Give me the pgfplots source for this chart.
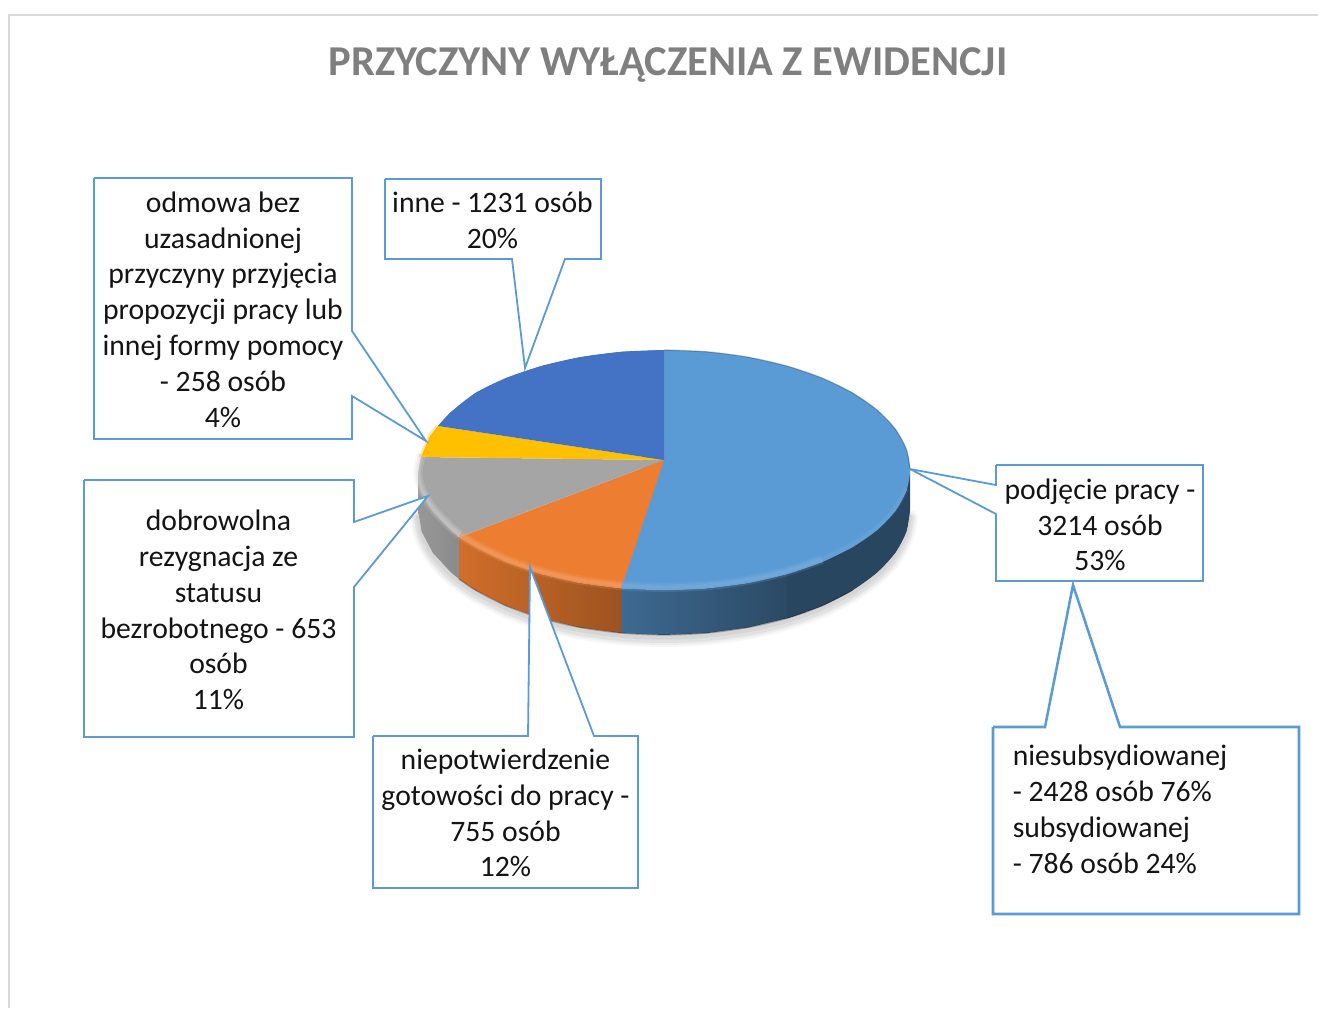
\documentclass[border=0pt]{standalone}
\usepackage{fontspec}
\setmainfont{Carlito}
\usepackage{pgfplots}
\usepackage{pgfplotstable}
\pgfplotsset{compat=1.18}
\definecolor{cblue}{HTML}{5B9BD5}
\definecolor{cdblue}{HTML}{4472C4}
\definecolor{corange}{HTML}{ED7D31}
\definecolor{cgrey}{HTML}{A5A5A5}
\definecolor{cyellow}{HTML}{FFC000}
\definecolor{frame}{HTML}{D9D9D9}
\definecolor{titlec}{HTML}{7F7F7F}
% rim of the upper face
\pgfplotstableread{
x y
664 350
706.7 351.8
748.1 357.2
787 366.1
822.1 378.1
852.4 392.9
877 410
895.2 429
906.3 449.2
910 470
906.3 490.8
895.2 511
877 530
852.4 547.1
822.1 561.9
787 573.9
748.1 582.8
706.7 588.2
664 590
621.3 588.2
}\rimBlueAll
\pgfplotstableread{
x y
906.3 490.8
895.2 511
877 530
852.4 547.1
822.1 561.9
}\rimBlueR
\pgfplotstableread{
x y
822.1 561.9
787 573.9
748.1 582.8
706.7 588.2
664 590
621.3 588.2
}\rimBlueL
\pgfplotstableread{
x y
621.3 588.2
579.9 582.8
541 573.9
505.9 561.9
475.6 547.1
460 537
}\rimOrange
\pgfplotstableread{
x y
460 537
451 530
432.8 511
421.7 492
418 476
421 457
}\rimGrey
\pgfplotstableread{
x y
421 457
430 436
438 426
}\rimYellow
\pgfplotstableread{
x y
438 426
451 412
475.6 392.9
505.9 378.1
541 366.1
579.9 357.2
621.3 351.8
664 350
}\rimDark
\pgfplotstableread{
x y
664 350
706.7 351.8
748.1 357.2
787 366.1
822.1 378.1
852.4 392.9
877 410
895.2 429
906.3 449.2
910 470
}\rimTopR
% lower edge of the pie
\pgfplotstableread{
x y
910 514
906.3 531.7
895.2 552.8
877 572.5
852.4 590.3
822.1 605.8
787 618.3
748.1 627.5
706.7 633.1
664 635
621.3 633.1
579.9 627.5
541 618.3
505.9 605.8
475.6 590.3
459 579
451 572.5
432.8 552.8
421.7 531.7
418 514
}\lowerEdge
\pgfplotstableread{
x y
910 510
906.3 531.7
895.2 552.8
877 572.5
852.4 590.3
822.1 605.8
787 618.3
}\lowerBlueR
\tikzset{box/.style={draw=cblue,line width=1.35pt,fill=white,line join=miter},
 lab/.style={font=\fontsize{22.25}{26.85}\selectfont,align=center,text=black!92,inner sep=0pt}}
\begin{document}
\begin{tikzpicture}
\begin{axis}[scale only axis,width=988.5pt,height=756pt,xmin=0,xmax=1318,ymin=0,ymax=1008,
  y dir=reverse,axis lines=none,clip=false,ticks=none]
% frame
\addplot[draw=frame,line width=1.5pt,forget plot] coordinates {(9,1008) (9,14.5) (1318,14.5)};
% shadow
\addplot[smooth,draw=black,opacity=.03,line width=12pt,line cap=round,yshift=-3pt,forget plot] table {\lowerEdge};
\addplot[smooth,draw=black,opacity=.04,line width=9pt,line cap=round,yshift=-3pt,forget plot] table {\lowerEdge};
\addplot[smooth,draw=black,opacity=.05,line width=6pt,line cap=round,yshift=-3pt,forget plot] table {\lowerEdge};
\addplot[smooth,draw=black,opacity=.05,line width=3pt,line cap=round,yshift=-2pt,forget plot] table {\lowerEdge};
% side walls
\addplot[draw=none,left color=cblue!68!black,right color=cblue!45!black,forget plot] coordinates {
 (805,568.4) (787,573.9) (748.1,582.8) (706.7,588.2) (664,590) (621.3,588.2)
 (621.3,633.1) (664,635) (706.7,633.1) (748.1,627.5) (787,618.3) (805,612.4)};
\addplot[draw=none,fill=cblue!45!black,forget plot] coordinates {
 (910,470) (906.3,490.8) (895.2,511) (877,530) (852.4,547.1) (822.1,561.9) (787,573.9)
 (787,618.3) (822.1,605.8) (852.4,590.3) (877,572.5) (895.2,552.8) (906.3,531.7) (910,510)};
\addplot[smooth,draw=none,fill=cblue!45!black,forget plot] table {\lowerBlueR};
\addplot[draw=none,left color=corange!88!black,right color=corange!66!black,forget plot] coordinates {
 (621.3,588.2) (579.9,582.8) (541,573.9) (505.9,561.9) (475.6,547.1) (459,537)
 (459,579) (475.6,590.3) (505.9,605.8) (541,618.3) (579.9,627.5) (621.3,633.1)};
\addplot[draw=none,left color=cgrey!92!black,right color=cgrey!84!black,forget plot] coordinates {
 (459,537) (451,530) (432.8,511) (421.7,492) (418,476)
 (418,510) (421.7,531.7) (432.8,552.8) (451,572.5) (459,579)};
% dark lower edge of the walls
\addplot[smooth,draw=black,opacity=.3,line width=.9pt,forget plot] coordinates {
 (852.4,590.3) (822.1,605.8) (787,618.3) (748.1,627.5) (706.7,633.1) (664,635) (621.3,633.1)
 (579.9,627.5) (541,618.3) (505.9,605.8) (475.6,590.3) (459,579)};
% upper faces: 3214, 755, 653, 258, 1231 persons
\addplot[draw=none,fill=cblue,forget plot] coordinates {
 (664,460) (664,350) (706.7,351.8) (748.1,357.2) (787,366.1) (822.1,378.1) (852.4,392.9) (877,410)
 (895.2,429) (906.3,449.2) (910,470) (906.3,490.8) (895.2,511) (877,530) (852.4,547.1) (822.1,561.9)
 (787,573.9) (748.1,582.8) (706.7,588.2) (664,590) (621.3,588.2)};
\addplot[smooth,draw=none,fill=cblue,forget plot] table {\rimBlueAll};
\addplot[draw=none,fill=corange,forget plot] coordinates {
 (664,460) (621.3,588.2) (579.9,582.8) (541,573.9) (505.9,561.9) (475.6,547.1) (460,537)};
\addplot[smooth,draw=none,fill=corange,forget plot] table {\rimOrange};
\addplot[draw=none,fill=cgrey,forget plot] coordinates {
 (664,460) (460,537) (451,530) (432.8,511) (421.7,492) (418,476) (421,457)};
\addplot[smooth,draw=none,fill=cgrey,forget plot] table {\rimGrey};
\addplot[draw=none,fill=cyellow,forget plot] coordinates {
 (664,460) (421,457) (430,436) (438,426)};
\addplot[draw=none,fill=cdblue,forget plot] coordinates {
 (664,460) (438,426) (451,412) (475.6,392.9) (505.9,378.1) (541,366.1) (579.9,357.2) (621.3,351.8) (664,350)};
\addplot[smooth,draw=none,fill=cdblue,forget plot] table {\rimDark};
% bevel highlights
\addplot[smooth,draw=cblue!75!white,opacity=.18,line width=7pt,yshift=2pt,forget plot] table {\rimBlueL};
\addplot[smooth,draw=cblue!75!white,opacity=.22,line width=4.5pt,yshift=2pt,forget plot] table {\rimBlueL};
\addplot[smooth,draw=cblue!75!white,opacity=.28,line width=2.5pt,yshift=2pt,forget plot] table {\rimBlueL};
\addplot[smooth,draw=corange!65!white,opacity=.18,line width=7pt,yshift=2pt,forget plot] table {\rimOrange};
\addplot[smooth,draw=corange!65!white,opacity=.22,line width=4.5pt,yshift=2pt,forget plot] table {\rimOrange};
\addplot[smooth,draw=corange!65!white,opacity=.28,line width=2.5pt,yshift=2pt,forget plot] table {\rimOrange};
\addplot[smooth,draw=cgrey!45!white,opacity=.18,line width=7pt,yshift=2pt,forget plot] table {\rimGrey};
\addplot[smooth,draw=cgrey!45!white,opacity=.22,line width=4.5pt,yshift=2pt,forget plot] table {\rimGrey};
\addplot[smooth,draw=cgrey!45!white,opacity=.28,line width=2.5pt,yshift=2pt,forget plot] table {\rimGrey};
\addplot[smooth,draw=cyellow!70!orange,opacity=.3,line width=3pt,forget plot] table {\rimYellow};
\addplot[smooth,draw=cblue!75!white,opacity=.12,line width=4pt,yshift=2pt,forget plot] table {\rimBlueR};
\addplot[smooth,draw=cblue!75!white,opacity=.18,line width=2pt,yshift=2pt,forget plot] table {\rimBlueR};
\addplot[smooth,draw=cblue!45!black,opacity=.35,line width=1pt,forget plot] table {\rimTopR};
% callouts
\addplot[box,forget plot] coordinates {(94,178) (352,178) (352,331) (426,441) (352,396) (352,439) (94,439) (94,178)};
\addplot[box,forget plot] coordinates {(385,179) (601,179) (601,259) (565,259) (525,368) (512,259) (385,259) (385,179)};
\addplot[box,forget plot] coordinates {(996,465) (1203,465) (1203,581) (996,581) (996,514) (910,469) (996,485) (996,465)};
\addplot[box,line width=1.9pt,forget plot] coordinates {(993,727) (1045,727) (1073,585) (1120,727) (1299,727) (1299,914) (993,914) (993,727)};
\addplot[box,forget plot] coordinates {(373,736) (528,736) (530,567) (594,736) (638,736) (638,888) (373,888) (373,736)};
\addplot[box,forget plot] coordinates {(84,480) (354,480) (354,522) (428,496) (354,587) (354,737) (84,737) (84,480)};
% texts
\node[font=\fontsize{31.9}{38}\selectfont\bfseries,text=titlec,inner sep=0pt] at (axis cs:668,64.5) {PRZYCZYNY WYŁĄCZENIA Z EWIDENCJI};
\node[lab] at (axis cs:223,309.5) {odmowa bez\\uzasadnionej\\przyczyny przyjęcia\\propozycji pracy lub\\innej formy pomocy\\- 258 osób\\4\%};
\node[lab] at (axis cs:492.5,220) {inne - 1231 osób\\20\%};
\node[lab] at (axis cs:1100,525) {podjęcie pracy -\\3214 osób\\53\%};
\node[lab,align=left,anchor=west] at (axis cs:1012.5,809.5) {niesubsydiowanej\\- 2428 osób 76\%\\subsydiowanej\\- 786 osób 24\%};
\node[lab] at (axis cs:505.5,813) {niepotwierdzenie\\gotowości do pracy -\\755 osób\\12\%};
\node[lab] at (axis cs:218.5,610) {dobrowolna\\rezygnacja ze\\statusu\\bezrobotnego - 653\\osób\\11\%};
\end{axis}
\pgfresetboundingbox
\useasboundingbox (0,0) rectangle (988.5pt,756pt);
\end{tikzpicture}
\end{document}
